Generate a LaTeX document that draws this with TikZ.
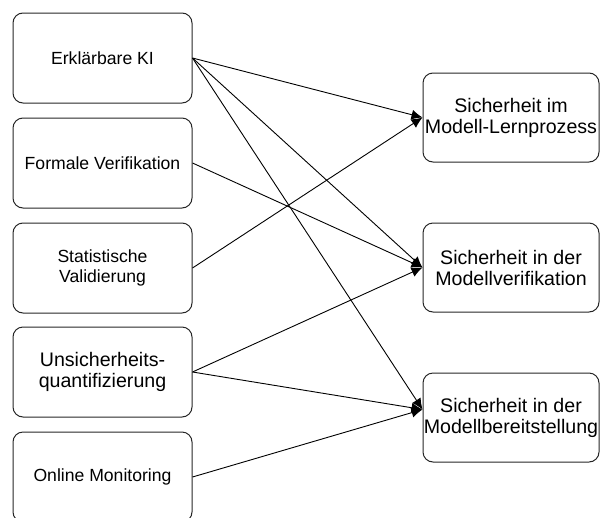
\documentclass[tikz,border=0pt]{standalone}
\usepackage{fontspec}
\setmainfont{Liberation Sans}
\usetikzlibrary{arrows.meta}

\tikzset{
  srcbox/.style={draw=black!85, line width=1pt, rounded corners=10pt,
    minimum width=179pt, minimum height=90pt, inner sep=0pt,
    align=center, font=\fontsize{17.6}{20}\selectfont},
  tgtbox/.style={draw=black!85, line width=1pt, rounded corners=10pt,
    minimum width=176pt, minimum height=89pt, inner sep=0pt,
    align=center, font=\fontsize{19.6}{21}\selectfont},
  link/.style={draw=black, line width=0.9pt, -{Latex[length=11pt,width=10pt]}}
}

\begin{document}
\begin{tikzpicture}[x=1pt, y=-1pt]
  \useasboundingbox (0,0) rectangle (602,517);

  % methods (left column)
  \node[srcbox] (xai)  at (102.5, 58)  {Erklärbare KI};
  \node[srcbox] (fv)   at (102.5, 163) {Formale Verifikation};
  \node[srcbox] (sv)   at (102.5, 268) {Statistische\\Validierung};
  \node[srcbox, font=\fontsize{19.6}{21}\selectfont] (uq) at (102.5, 372) {Unsicherheits-\\quantifizierung};
  \node[srcbox] (om)   at (102.5, 477) {Online Monitoring};

  % safety goals (right column)
  \node[tgtbox] (lern) at (511, 117.5) {Sicherheit im\\Modell-Lernprozess};
  \node[tgtbox] (veri) at (511, 267.5) {Sicherheit in der\\Modellverifikation};
  \node[tgtbox] (bere) at (511, 417.5) {Sicherheit in der\\Modellbereitstellung};

  % arrow landing points on the goal boxes
  \coordinate (inL) at (lern.west);
  \coordinate (inV) at (veri.west);
  \coordinate (inB) at ([yshift=8pt]bere.west);

  % connections
  \draw[link] (xai.east) -- (inL);
  \draw[link] (xai.east) -- (inV);
  \draw[link] (xai.east) -- (inB);
  \draw[link] (fv.east)  -- (inV);
  \draw[link] (sv.east)  -- (inL);
  \draw[link] (uq.east)  -- (inV);
  \draw[link] (uq.east)  -- (inB);
  \draw[link] (om.east)  -- (inB);
\end{tikzpicture}
\end{document}
